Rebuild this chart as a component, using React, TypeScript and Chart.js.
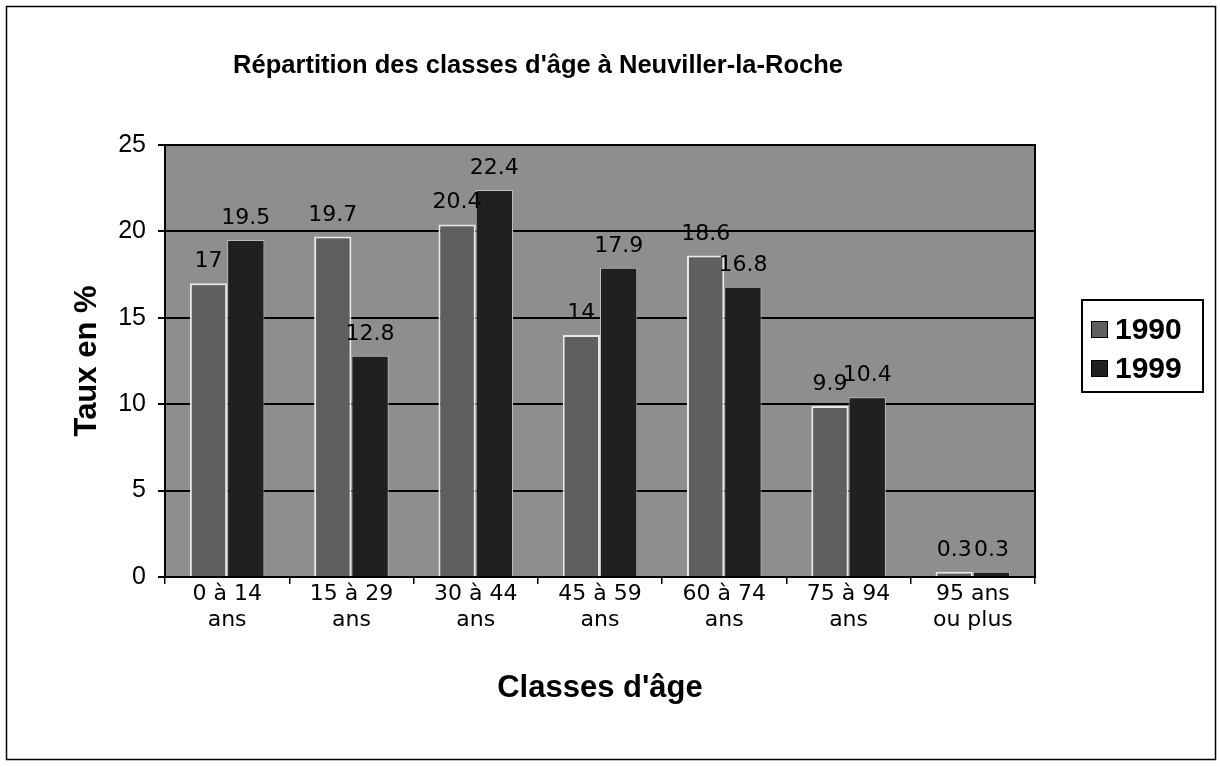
import React, { useEffect, useRef } from "react";
import { Chart, registerables } from "chart.js";

Chart.register(...registerables);

const categories: string[][] = [
  ["0 à 14", "ans"],
  ["15 à 29", "ans"],
  ["30 à 44", "ans"],
  ["45 à 59", "ans"],
  ["60 à 74", "ans"],
  ["75 à 94", "ans"],
  ["95 ans", "ou plus"],
];
const seriesNames = ["1990", "1999"];
const values1990 = [17, 19.7, 20.4, 14, 18.6, 9.9, 0.3];
const values1999 = [19.5, 12.8, 22.4, 17.9, 16.8, 10.4, 0.3];
const yMin = 0;
const yMax = 25;
const yStep = 5;
const chartTitle = "Répartition des classes d'âge à Neuviller-la-Roche";
const xTitle = "Classes d'âge";
const yTitle = "Taux en %";

const colors = ["#5f5f5f", "#202020"];
const plotBg = "#8e8e8e";

const decorPlugin = {
  id: "decor",
  beforeDraw(chart: any) {
    const { ctx, chartArea: a, width, height } = chart;
    ctx.save();
    ctx.fillStyle = "#ffffff";
    ctx.fillRect(0, 0, width, height);
    ctx.fillStyle = plotBg;
    ctx.fillRect(a.left, a.top, a.right - a.left, a.bottom - a.top);
    ctx.strokeStyle = "#000";
    ctx.lineWidth = 1.5;
    ctx.strokeRect(6.5, 6.5, 1209, 753);
    ctx.restore();
  },
  afterDatasetsDraw(chart: any) {
    const { ctx, chartArea: a } = chart;
    ctx.save();
    // plot border
    ctx.strokeStyle = "#000";
    ctx.lineWidth = 2;
    ctx.strokeRect(a.left, a.top, a.right - a.left, a.bottom - a.top);

    // data labels
    ctx.fillStyle = "#000";
    ctx.font = "22px 'DejaVu Sans'";
    ctx.textAlign = "center";
    ctx.textBaseline = "alphabetic";
    chart.data.datasets.forEach((ds: any, di: number) => {
      const meta = chart.getDatasetMeta(di);
      meta.data.forEach((bar: any, i: number) => {
        const v = ds.data[i];
        ctx.fillText(String(v), bar.x, bar.y - 16);
      });
    });

    // title
    ctx.font = "bold 25.5px 'Liberation Sans'";
    ctx.textAlign = "center";
    ctx.textBaseline = "middle";
    ctx.fillText(chartTitle, 538, 66);

    // legend
    ctx.lineWidth = 2;
    ctx.strokeStyle = "#000";
    ctx.strokeRect(1082, 300, 121, 92);
    ctx.font = "bold 30px 'Liberation Sans'";
    ctx.textAlign = "left";
    chart.data.datasets.forEach((ds: any, di: number) => {
      const cy = 329 + di * 39;
      ctx.fillStyle = ds.backgroundColor;
      ctx.fillRect(1091, cy - 8, 17, 17);
      ctx.lineWidth = 1;
      ctx.strokeRect(1091.5, cy - 7.5, 16, 16);
      ctx.fillStyle = "#000";
      ctx.fillText(ds.label, 1115, cy + 2);
    });
    ctx.restore();
  },
};

export default function App() {
  const ref = useRef<HTMLCanvasElement>(null);
  useEffect(() => {
    if (!ref.current) return;
    const chart = new Chart(ref.current, {
      type: "bar",
      data: {
        labels: categories,
        datasets: [
          {
            label: seriesNames[0],
            data: values1990,
            backgroundColor: colors[0],
            borderColor: "#e8e8e8",
            borderWidth: 2,
            categoryPercentage: 0.6,
            barPercentage: 1,
          },
          {
            label: seriesNames[1],
            data: values1999,
            backgroundColor: colors[1],
            borderColor: "#bdbdbd",
            borderWidth: 1,
            categoryPercentage: 0.6,
            barPercentage: 1,
          },
        ],
      },
      options: {
        responsive: false,
        animation: false,
        layout: { padding: { left: 0, top: 145, right: 185, bottom: 60 } },
        plugins: {
          legend: { display: false },
          title: { display: false },
          tooltip: { enabled: false },
        },
        scales: {
          x: {
            afterFit: (s: any) => {
              s.height = 130;
            },
            grid: {
              display: true,
              drawOnChartArea: false,
              color: "#000",
              tickLength: 7,
              lineWidth: 1.5,
            },
            border: { display: true, color: "#000", width: 2 },
            ticks: {
              color: "#000",
              padding: -3,
              font: { family: "'DejaVu Sans'", size: 22, lineHeight: 1.2 },
              maxRotation: 0,
              autoSkip: false,
            },
            title: {
              display: true,
              text: xTitle,
              color: "#000",
              font: { family: "'Liberation Sans'", size: 31, weight: "bold" },
              padding: { top: 0, bottom: 0 },
            },
          },
          y: {
            min: yMin,
            max: yMax,
            afterFit: (s: any) => {
              s.width = 165;
            },
            grid: {
              color: "#000",
              lineWidth: 2,
              tickLength: 7,
            },
            border: { display: true, color: "#000", width: 2 },
            ticks: {
              stepSize: yStep,
              color: "#000",
              padding: 12,
              font: { family: "'Liberation Sans'", size: 25 },
            },
            title: {
              display: true,
              text: yTitle,
              color: "#000",
              font: { family: "'Liberation Sans'", size: 31, weight: "bold" },
              padding: { top: 69, bottom: 0 },
            },
          },
        },
      },
      plugins: [decorPlugin],
    } as any);
    return () => chart.destroy();
  }, []);
  return (
    <div style={{ position: "absolute", left: 0, top: 0, width: 1220, height: 767 }}>
      <canvas ref={ref} width={1220} height={767} style={{ display: "block" }} />
    </div>
  );
}
